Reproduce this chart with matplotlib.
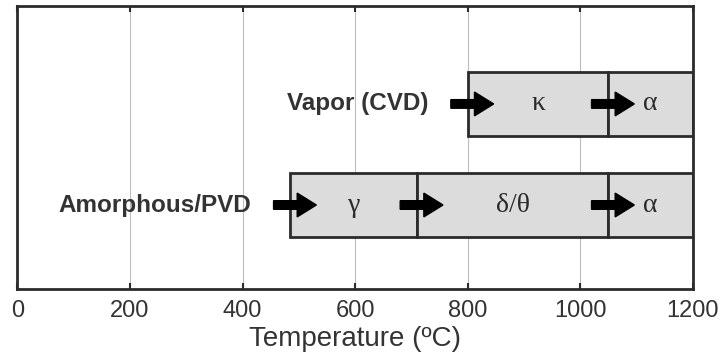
import matplotlib.pyplot as plt

# phase sequences, temperature limits in degC
routes = ["Amorphous/PVD", "Vapor (CVD)"]
route_y = [1.0, 2.0]
amorph_edges = [485, 710, 1050, 1200]
amorph_phases = ["\u03b3", "\u03b4/\u03b8", "\u03b1"]
vapor_edges = [800, 1050, 1200]
vapor_phases = ["\u03ba", "\u03b1"]
xticks = [0, 200, 400, 600, 800, 1000, 1200]

box_fill = "#dcdcdc"
ink = "#2b2b2b"
bar_h = 0.63

plt.rcParams['font.family'] = ['Liberation Sans', 'DejaVu Sans']
fig = plt.figure(figsize=(7.2, 3.6), dpi=100)
ax = fig.add_axes([0.0243, 0.197, 0.938, 0.786])


def draw_route(y, edges, phases, label):
    for i, ph in enumerate(phases):
        x0, x1 = edges[i], edges[i + 1]
        ax.barh(y, x1 - x0, left=x0, height=bar_h, color=box_fill,
                edgecolor=ink, linewidth=2, zorder=2)
        ax.text((x0 + x1) / 2, y, ph, ha='center', va='center', fontsize=20,
                family=['Liberation Serif', 'DejaVu Serif'], color=ink, zorder=4)
    # arrows at each boundary
    for b in edges[:-1]:
        ax.arrow(b - 30, y, 76, 0, width=0.085, head_width=0.235, head_length=34,
                 length_includes_head=True, color='black', zorder=5)
    ax.text(edges[0] - 69, y, label, ha='right', va='center', fontsize=17.5,
            fontweight='bold', color='#333333', zorder=4)


draw_route(route_y[0], amorph_edges, amorph_phases, routes[0])
draw_route(route_y[1], vapor_edges, vapor_phases, routes[1])

ax.set_xlim(0, 1200)
ax.set_ylim(0.168, 2.968)
ax.set_xticks(xticks)
ax.set_yticks([])
ax.tick_params(axis='x', direction='in', top=True, labelsize=17, length=4,
               width=1.5, colors=ink, labelcolor='#333333', pad=8)
ax.grid(axis='x', color='#bdbdbd', linewidth=0.8, zorder=0)
ax.set_axisbelow(True)
for s in ax.spines.values():
    s.set_linewidth(2)
    s.set_color(ink)
ax.set_xlabel("Temperature (\u00baC)", fontsize=20, color='#333333', labelpad=3)

fig.savefig("out.png", dpi=100)
